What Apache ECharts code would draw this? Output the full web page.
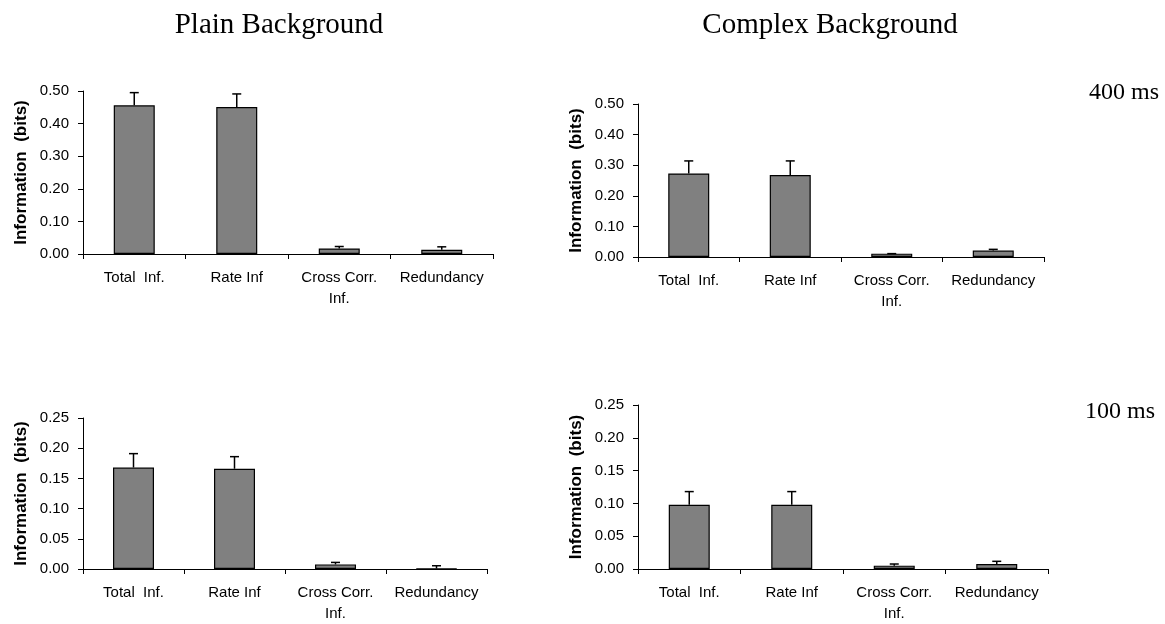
<!DOCTYPE html>
<html>
<head>
<meta charset="utf-8">
<script src="https://cdn.jsdelivr.net/npm/echarts@6/dist/echarts.min.js"></script>
<style>
  html, body { margin: 0; padding: 0; background: #fff; }
  #chart { width: 1165px; height: 624px; }
</style>
</head>
<body>
<div id="chart"></div>
<script>
// categories shared by all four panels
const categories = ["Total  Inf.", "Rate Inf", "Cross Corr.\nInf.", "Redundancy"];

// 400 ms window
const plain400 = [0.456, 0.451, 0.017, 0.013];
const plain400Err = [0.039, 0.040, 0.006, 0.009];
const complex400 = [0.273, 0.268, 0.011, 0.021];
const complex400Err = [0.041, 0.046, 0.0, 0.004];

// 100 ms window
const plain100 = [0.168, 0.166, 0.0076, 0.0008];
const plain100Err = [0.023, 0.020, 0.0033, 0.0046];
const complex100 = [0.098, 0.098, 0.0051, 0.0076];
const complex100Err = [0.020, 0.020, 0.0025, 0.0041];

const panels = [
  { values: plain400, err: plain400Err, max: 0.5, step: 0.1, grid: { left: 83, top: 91, width: 410, height: 163 } },
  { values: complex400, err: complex400Err, max: 0.5, step: 0.1, grid: { left: 638, top: 104, width: 406, height: 153 } },
  { values: plain100, err: plain100Err, max: 0.25, step: 0.05, grid: { left: 83, top: 418, width: 404, height: 153 } },
  { values: complex100, err: complex100Err, max: 0.25, step: 0.05, grid: { left: 638, top: 405, width: 410, height: 164 } }
];

const sans = "'Liberation Sans', Arial, sans-serif";
const serif = "'Liberation Serif', 'Times New Roman', serif";

let grids = [];
let xAxes = [];
let yAxes = [];
let series = [];

panels.forEach(function (p, i) {
  grids.push(p.grid);

  xAxes.push({
    type: "category",
    gridIndex: i,
    data: categories,
    axisLine: { lineStyle: { color: "#000", width: 1 } },
    axisTick: { show: true, length: 5, lineStyle: { color: "#000" } },
    axisLabel: { color: "#000", fontFamily: sans, fontSize: 15, lineHeight: 21, margin: 13, interval: 0 }
  });

  yAxes.push({
    type: "value",
    gridIndex: i,
    min: 0,
    max: p.max,
    interval: p.step,
    name: "Information  (bits)",
    nameLocation: "middle",
    nameRotate: 90,
    nameGap: 53,
    nameTextStyle: { color: "#000", fontFamily: sans, fontSize: 17, fontWeight: "bold" },
    axisLine: { show: true, lineStyle: { color: "#000", width: 1 } },
    axisTick: { show: true, length: 5, lineStyle: { color: "#000" } },
    splitLine: { show: false },
    axisLabel: {
      color: "#000",
      fontFamily: sans,
      fontSize: 15,
      margin: 14,
      formatter: function (v) { return v.toFixed(2); }
    }
  });

  series.push({
    type: "bar",
    xAxisIndex: i,
    yAxisIndex: i,
    data: p.values,
    barWidth: 41,
    itemStyle: { color: "#808080", borderColor: "#000", borderWidth: 1.2 }
  });

  let errData = p.values.map(function (v, k) {
    return [k, v, v + p.err[k]];
  });

  series.push({
    type: "custom",
    xAxisIndex: i,
    yAxisIndex: i,
    z: 5,
    data: errData,
    renderItem: function (params, api) {
      const idx = api.value(0);
      const base = api.coord([idx, api.value(1)]);
      const top = api.coord([idx, api.value(2)]);
      const half = 4.5;
      return {
        type: "group",
        children: [
          { type: "line", shape: { x1: base[0], y1: base[1], x2: top[0], y2: top[1] }, style: { stroke: "#000", lineWidth: 1.5 } },
          { type: "line", shape: { x1: top[0] - half, y1: top[1], x2: top[0] + half, y2: top[1] }, style: { stroke: "#000", lineWidth: 1.5 } }
        ]
      };
    }
  });
});

const chart = echarts.init(document.getElementById("chart"));

chart.setOption({
  backgroundColor: "#fff",
  animation: false,
  grid: grids,
  xAxis: xAxes,
  yAxis: yAxes,
  series: series,
  graphic: [
    { type: "text", x: 279, y: 25, style: { text: "Plain Background", font: "29px " + serif, fill: "#000", align: "center", verticalAlign: "middle" } },
    { type: "text", x: 830, y: 25, style: { text: "Complex Background", font: "29px " + serif, fill: "#000", align: "center", verticalAlign: "middle" } },
    { type: "text", x: 1124, y: 93, style: { text: "400 ms", font: "24px " + serif, fill: "#000", align: "center", verticalAlign: "middle" } },
    { type: "text", x: 1120, y: 412, style: { text: "100 ms", font: "24px " + serif, fill: "#000", align: "center", verticalAlign: "middle" } }
  ]
});
</script>
</body>
</html>
